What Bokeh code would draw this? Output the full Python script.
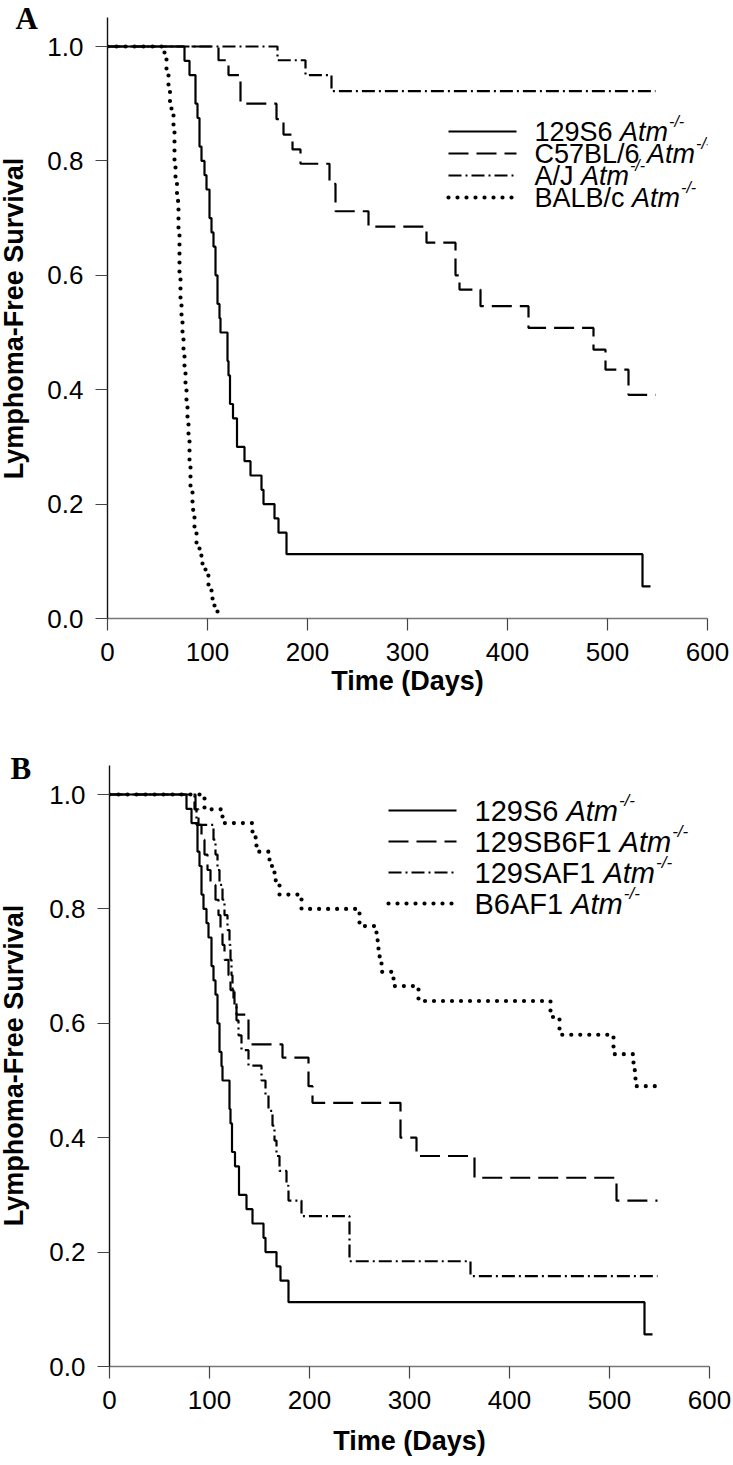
import math
from bokeh.plotting import figure
from bokeh.models import FixedTicker, PrintfTickFormatter, Label, Arrow
from bokeh.layouts import column, row
from bokeh.embed import file_html
from bokeh.resources import INLINE

# ------------------------------------------------------------------ data
x_ticks = [0, 100, 200, 300, 400, 500, 600]
y_ticks = [0.0, 0.2, 0.4, 0.6, 0.8, 1.0]

# 129S6 Atm-/- (same cohort shown in both panels)
t_129S6 = [0, 77, 82, 88, 90, 92, 94, 97, 99, 102, 104, 106, 108, 110, 112, 113,
           120, 121, 122.5, 125.5, 129.5, 137, 143, 154, 156, 167, 171, 179, 535, 543]
s_129S6 = [1.0, 0.975, 0.95, 0.90, 0.875, 0.825, 0.80, 0.775, 0.75, 0.70, 0.675, 0.65,
           0.60, 0.55, 0.525, 0.50, 0.45, 0.425, 0.375, 0.35, 0.30, 0.275, 0.25, 0.225,
           0.20, 0.175, 0.15, 0.1125, 0.056, 0.056]

# Panel A
t_C57 = [0, 111, 121, 133, 169, 176, 185, 193, 222, 228, 261, 319, 348, 352, 373,
         421, 486, 498, 521, 548]
s_C57 = [1.0, 0.976, 0.95, 0.90, 0.873, 0.846, 0.82, 0.795, 0.76, 0.712, 0.685, 0.657,
         0.60, 0.575, 0.546, 0.508, 0.47, 0.435, 0.391, 0.391]

t_AJ = [0, 170, 198, 224, 548]
s_AJ = [1.0, 0.976, 0.95, 0.922, 0.922]

t_BALB = [0, 57, 59, 61, 62.5, 64, 66, 67, 68, 69.5, 71, 72, 73, 74, 75, 76, 77, 78, 79,
          80, 81, 82, 83, 85, 87, 89, 92, 95, 98, 101, 104, 107, 110]
s_BALB = [1.0, 0.98, 0.96, 0.93, 0.90, 0.88, 0.85, 0.80, 0.76, 0.73, 0.67, 0.60, 0.56,
          0.53, 0.50, 0.47, 0.44, 0.41, 0.38, 0.35, 0.31, 0.27, 0.23, 0.19, 0.155, 0.13,
          0.11, 0.095, 0.075, 0.055, 0.035, 0.02, 0.01]

# Panel B
t_SB6F1 = [0, 86, 89, 92, 95, 98, 101, 106, 109, 111, 113, 115, 119, 121, 124, 127,
           139, 173, 199, 203, 291, 307, 365, 507, 548]
s_SB6F1 = [1.0, 0.974, 0.947, 0.921, 0.895, 0.868, 0.842, 0.816, 0.789, 0.763, 0.737,
           0.711, 0.684, 0.658, 0.64, 0.615, 0.563, 0.54, 0.49, 0.461, 0.40, 0.368,
           0.33, 0.29, 0.29]

t_SAF1 = [0, 85, 87, 104, 106, 108, 110, 113, 115, 118, 120, 121, 122, 123, 125, 127,
          129, 132, 139, 152, 156, 159, 163, 165, 167, 170, 177, 179, 192, 240, 361, 548]
s_SAF1 = [1.0, 0.974, 0.947, 0.921, 0.895, 0.868, 0.842, 0.816, 0.789, 0.763, 0.737,
          0.711, 0.684, 0.658, 0.632, 0.605, 0.579, 0.553, 0.526, 0.50, 0.474, 0.447,
          0.421, 0.395, 0.368, 0.342, 0.316, 0.29, 0.263, 0.184, 0.158, 0.158]

t_B6AF1 = [0, 95, 113, 143, 147, 160, 165, 170, 192, 250, 267, 269, 272, 284, 309,
           441, 450, 504, 524, 526, 546]
s_B6AF1 = [1.0, 0.974, 0.95, 0.925, 0.90, 0.875, 0.85, 0.825, 0.80, 0.77, 0.745,
           0.717, 0.69, 0.665, 0.639, 0.611, 0.58, 0.546, 0.518, 0.49, 0.49]

names_A = ["129S6", "C57BL/6", "A/J", "BALB/c"]
names_B = ["129S6", "129SB6F1", "129SAF1", "B6AF1"]
y_title = "Lymphoma-Free Survival"
x_title = "Time (Days)"

# ------------------------------------------------------------------ styles
FONT = "Liberation Sans"
SERIF = "Liberation Serif"
STY = {
    "solid": dict(line_dash="solid", line_width=2.2),
    "dashed": dict(line_dash="20 8", line_width=2.2),
    "dashdot": dict(line_dash="13 4 2 4", line_width=2.2),
    "dotted": dict(line_dash="0 9", line_width=4.2, line_cap="round"),
}
ORDER = ["solid", "dashed", "dashdot", "dotted"]

# Arial / Liberation Sans advance widths (per 1000 em)
W = {**{d: 556 for d in "0123456789"}, "A": 667, "B": 667, "C": 722, "F": 611, "J": 500,
     "L": 556, "S": 667, "/": 278, " ": 278, "a": 556, "c": 500, "t": 278, "m": 833,
     "-": 333}


def tw(s, f):
    return sum(W[c] for c in s) * f / 1000.0


SIDE_W = 44
PX_PER_UNIT = 572.0   # vertical pixels for a survival of 1.0


def make_fig(width, height, b_left, b_right, b_bottom, frame_h, title_standoff):
    p = figure(width=width, height=height, x_range=(0, 600),
               y_range=(0, frame_h / PX_PER_UNIT),
               output_backend="svg", toolbar_location=None,
               min_border_left=b_left, min_border_right=b_right,
               min_border_top=0, min_border_bottom=b_bottom)
    p.outline_line_color = None
    p.xgrid.visible = False
    p.ygrid.visible = False
    p.background_fill_color = "white"
    p.border_fill_color = "white"

    p.xaxis.ticker = FixedTicker(ticks=x_ticks)
    p.yaxis.ticker = FixedTicker(ticks=y_ticks)
    p.yaxis.formatter = PrintfTickFormatter(format="%.1f")
    p.yaxis.bounds = (0, 1.05)
    for ax in (p.xaxis[0], p.yaxis[0]):
        ax.major_tick_out = 12
        ax.major_tick_in = 0
        ax.minor_tick_line_color = None
        ax.major_tick_line_color = "#444444"
        ax.major_tick_line_width = 1.2
        ax.axis_line_width = 1.4
        ax.major_label_text_font = FONT
        ax.major_label_text_font_size = "26px"
        ax.major_label_text_color = "black"
        ax.axis_label_text_font = FONT
        ax.axis_label_text_font_style = "bold"
        ax.axis_label_text_font_size = "27px"
        ax.axis_label_text_color = "black"
    p.xaxis.axis_line_color = "#777777"
    p.yaxis.axis_line_color = "#111111"
    p.xaxis.major_label_standoff = 12
    p.yaxis.major_label_standoff = 12
    p.xaxis.axis_label = x_title
    p.xaxis.axis_label_standoff = title_standoff
    return p


def side_fig(height, frame_h, letter, letter_x, letter_top, title_cy):
    # its frame is aligned with the neighbouring plot's frame (top 0, height frame_h)
    s = figure(width=SIDE_W, height=height, x_range=(0, 1), y_range=(0, 1),
               output_backend="svg", toolbar_location=None,
               x_axis_location=None, y_axis_location=None, min_border=0)
    s.outline_line_color = None
    s.xgrid.visible = False
    s.ygrid.visible = False
    s.background_fill_color = "white"
    s.border_fill_color = "white"
    s.add_layout(Label(x=letter_x, y=frame_h - letter_top, x_units="screen",
                       y_units="screen", text=letter, text_font=SERIF,
                       text_font_style="bold", text_font_size="31px",
                       text_baseline="top", text_align="left", text_color="black"))
    s.add_layout(Label(x=13, y=frame_h - title_cy, x_units="screen", y_units="screen",
                       text=y_title, angle=math.pi / 2, text_font=FONT,
                       text_font_style="bold", text_font_size="27px",
                       text_align="center", text_baseline="middle", text_color="black"))
    return s


def add_curves(p, series):
    for (t, s), key in zip(series, ORDER):
        p.step(t, s, mode="after", line_color="black", **STY[key])


def add_legend(p, names, x0, x1, xt, rows, f):
    for name, key, y in zip(names, ORDER, rows):
        p.add_layout(Arrow(end=None, x_start=x0, y_start=y, x_end=x1, y_end=y,
                           start_units="screen", end_units="screen",
                           line_color="black", **STY[key]))
        p.add_layout(Label(x=xt, y=y, x_units="screen", y_units="screen", text=name,
                           text_font=FONT, text_font_size=f"{f}px",
                           text_baseline="middle", text_color="black"))
        xa = xt + tw(name + " ", f)
        p.add_layout(Label(x=xa, y=y, x_units="screen", y_units="screen", text="Atm",
                           text_font=FONT, text_font_size=f"{f}px",
                           text_font_style="italic",
                           text_baseline="middle", text_color="black"))
        xs = xa + tw("Atm", f) + 1
        p.add_layout(Label(x=xs, y=y + 0.36 * f, x_units="screen", y_units="screen",
                           text="-/-", text_font=FONT,
                           text_font_size=f"{round(0.6 * f)}px", text_font_style="italic",
                           text_baseline="middle", text_color="black"))


# ------------------------------------------------------------------ panel A
# page: frame 0..618 vertically (y=0 at 618), left edge of frame at 107
H_A, FH_A = 740, 618
pA = make_fig(733 - SIDE_W, H_A, 107 - SIDE_W, 26, H_A - FH_A, FH_A, 2)
add_curves(pA, [(t_129S6, s_129S6), (t_C57, s_C57), (t_AJ, s_AJ), (t_BALB, s_BALB)])
add_legend(pA, names_A, 341, 409, 427, [487, 465, 443, 421], 27)
sA = side_fig(H_A, FH_A, "A", 15, 0, 318)

# ------------------------------------------------------------------ panel B
# page: figure starts at 740, y=0 at 1366 -> frame height 626, frame left at 109
H_B, FH_B = 725, 626
pB = make_fig(733 - SIDE_W, H_B, 109 - SIDE_W, 24, H_B - FH_B, FH_B, 14)
add_curves(pB, [(t_129S6, s_129S6), (t_SB6F1, s_SB6F1), (t_SAF1, s_SAF1),
                (t_B6AF1, s_B6AF1)])
add_legend(pB, names_B, 279, 347, 365, [556, 525, 494, 463], 29)
sB = side_fig(H_B, FH_B, "B", 10, 10, 325)

layout = column(row(sA, pA, spacing=0), row(sB, pB, spacing=0), spacing=0)
open("out.html", "w").write(file_html(layout, INLINE))
